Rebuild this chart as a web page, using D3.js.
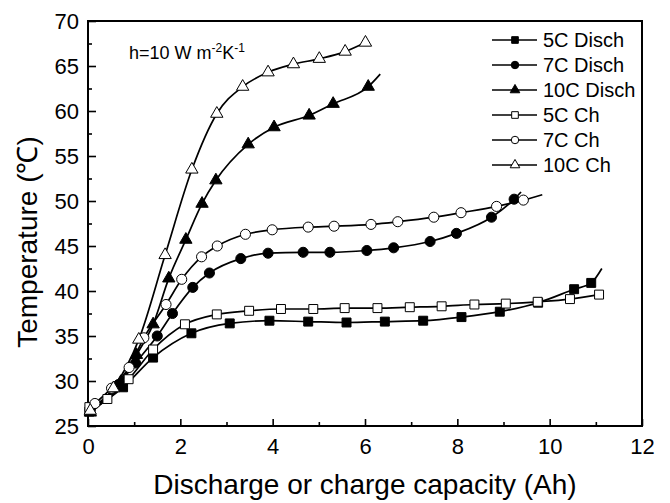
<!DOCTYPE html>
<html>
<head>
<meta charset="utf-8">
<script src="https://cdn.jsdelivr.net/npm/d3@7"></script>
<style>
  html, body { margin: 0; padding: 0; background: #fff; }
  svg { display: block; font-family: "Liberation Sans", Arial, Helvetica, sans-serif; }
</style>
</head>
<body>
<svg id="chart" width="670" height="503"></svg>
<script>
// ---- data ----
const seriesNames = ["5C Disch", "7C Disch", "10C Disch", "5C Ch", "7C Ch", "10C Ch"];

const disch5X = [0.03, 0.76, 1.41, 2.24, 3.07, 3.93, 4.77, 5.6, 6.43, 7.26, 8.09, 8.92, 9.75, 10.53, 10.9];
const disch5Y = [26.6, 29.3, 32.6, 35.3, 36.4, 36.7, 36.6, 36.5, 36.6, 36.7, 37.1, 37.7, 38.7, 40.2, 40.9];

const disch7X = [0.05, 0.66, 1.03, 1.5, 1.83, 2.27, 2.63, 3.31, 3.9, 4.66, 5.24, 6.04, 6.62, 7.41, 7.98, 8.74, 9.23];
const disch7Y = [26.8, 29.6, 32.0, 35.0, 37.5, 40.4, 42.0, 43.6, 44.2, 44.3, 44.3, 44.5, 44.8, 45.5, 46.4, 48.2, 50.2];

const disch10X = [0.05, 0.71, 1.05, 1.41, 1.75, 2.12, 2.47, 2.77, 3.47, 4.03, 4.79, 5.31, 6.07];
const disch10Y = [26.5, 29.9, 32.9, 36.3, 41.4, 45.7, 49.7, 52.3, 56.3, 58.2, 59.5, 60.8, 62.7];

const ch5X = [0.03, 0.42, 0.88, 1.41, 2.1, 2.79, 3.49, 4.18, 4.88, 5.56, 6.27, 6.97, 7.66, 8.37, 9.05, 9.74, 10.44, 11.07];
const ch5Y = [27.1, 28.0, 30.2, 33.5, 36.3, 37.4, 37.8, 38.0, 38.0, 38.1, 38.1, 38.2, 38.3, 38.5, 38.6, 38.8, 39.1, 39.6];

const ch7X = [0.15, 0.51, 0.89, 1.21, 1.69, 2.03, 2.46, 2.8, 3.41, 3.99, 4.77, 5.33, 6.13, 6.71, 7.49, 8.08, 8.85, 9.43];
const ch7Y = [27.5, 29.2, 31.5, 34.8, 38.5, 41.3, 43.8, 45.0, 46.3, 46.8, 47.1, 47.2, 47.4, 47.7, 48.2, 48.7, 49.4, 50.1];

const ch10X = [0.05, 0.55, 1.1, 1.67, 2.25, 2.79, 3.35, 3.9, 4.45, 5.01, 5.57, 6.01];
const ch10Y = [26.7, 29.2, 34.6, 44.0, 53.5, 59.7, 62.7, 64.3, 65.2, 65.8, 66.6, 67.6];

// line continues past last marker (x, y) or null
const lineTails = [[11.13, 42.5], [9.38, 51.0], [6.33, 64.1], null, [9.84, 50.7], null];

const xTicks = [0, 2, 4, 6, 8, 10, 12];
const xMinorTicks = [1, 3, 5, 7, 9, 11];
const yTicks = [25, 30, 35, 40, 45, 50, 55, 60, 65, 70];
const yMinorTicks = [27.5, 32.5, 37.5, 42.5, 47.5, 52.5, 57.5, 62.5, 67.5];

// ---- layout ----
const svg = d3.select("#chart");
const L = 88, R = 642, T = 21, B = 426;

const x = d3.scaleLinear().domain([0, 12]).range([L, R]);
const y = d3.scaleLinear().domain([25, 70]).range([B, T]);

const seriesX = [disch5X, disch7X, disch10X, ch5X, ch7X, ch10X];
const seriesY = [disch5Y, disch7Y, disch10Y, ch5Y, ch7Y, ch10Y];
const symbols = [d3.symbolSquare, d3.symbolCircle, d3.symbolTriangle, d3.symbolSquare, d3.symbolCircle, d3.symbolTriangle];
const filled = [true, true, true, false, false, false];
const symSize = [80, 80, 66, 80, 80, 66];
const legSize = [44, 44, 40, 44, 44, 40];

const series = seriesNames.map((name, i) => {
  const pts = seriesX[i].map((xv, j) => ({ x: xv, y: seriesY[i][j] }));
  const linePts = pts.slice();
  if (lineTails[i]) linePts.push({ x: lineTails[i][0], y: lineTails[i][1] });
  return { name, pts, linePts, i };
});

// ---- axes ----
const xAxis = d3.axisBottom(x).tickValues(xTicks).tickSize(-7).tickPadding(12).tickFormat(d3.format("d"));
const xMinor = d3.axisBottom(x).tickValues(xMinorTicks).tickSize(-4).tickFormat("");
const yAxis = d3.axisLeft(y).tickValues(yTicks).tickSize(-8).tickPadding(9).tickFormat(d3.format("d"));
const yMinor = d3.axisLeft(y).tickValues(yMinorTicks).tickSize(-4).tickFormat("");

function styleAxis(g) {
  g.select(".domain").remove();
  g.selectAll(".tick line").attr("stroke", "#000").attr("stroke-width", 1.6);
  g.selectAll(".tick text").attr("fill", "#000").attr("font-size", 22)
    .attr("font-family", "'Liberation Sans', Arial, sans-serif");
}

svg.append("g").attr("transform", `translate(0,${B})`).call(xAxis).call(styleAxis);
svg.append("g").attr("transform", `translate(0,${B})`).call(xMinor).call(styleAxis);
svg.append("g").attr("transform", `translate(${L},0)`).call(yAxis).call(styleAxis);
svg.append("g").attr("transform", `translate(${L},0)`).call(yMinor).call(styleAxis);

// frame
svg.append("rect").attr("x", L).attr("y", T).attr("width", R - L).attr("height", B - T)
  .attr("fill", "none").attr("stroke", "#000").attr("stroke-width", 2);

// ---- lines ----
const line = d3.line().x(d => x(d.x)).y(d => y(d.y)).curve(d3.curveMonotoneX);
const gLines = svg.append("g");
series.forEach(s => {
  gLines.append("path").attr("d", line(s.linePts))
    .attr("fill", "none").attr("stroke", "#000").attr("stroke-width", 1.7);
});

// ---- markers ----
const gMarks = svg.append("g");
series.forEach(s => {
  const sym = d3.symbol().type(symbols[s.i]).size(symSize[s.i]);
  gMarks.selectAll(null).data(s.pts).enter().append("path")
    .attr("transform", d => `translate(${x(d.x)},${y(d.y)})`)
    .attr("d", sym)
    .attr("fill", filled[s.i] ? "#000" : "#fff")
    .attr("stroke", "#000").attr("stroke-width", 1);
});

// ---- legend ----
const leg = svg.append("g");
const legX0 = 492, legX1 = 537, legMid = 515, legTextX = 543, legY0 = 40, legDY = 25;
seriesNames.forEach((name, i) => {
  const yy = legY0 + i * legDY;
  leg.append("line").attr("x1", legX0).attr("x2", legX1).attr("y1", yy).attr("y2", yy)
    .attr("stroke", "#000").attr("stroke-width", 1.7);
  leg.append("path").attr("transform", `translate(${legMid},${yy})`)
    .attr("d", d3.symbol().type(symbols[i]).size(legSize[i]))
    .attr("fill", filled[i] ? "#000" : "#fff").attr("stroke", "#000").attr("stroke-width", 1);
  leg.append("text").attr("x", legTextX).attr("y", yy).attr("dy", "0.36em")
    .attr("font-size", 20).attr("fill", "#000").text(name);
});

// ---- annotation ----
const ann = svg.append("text").attr("x", 129).attr("y", 59).attr("font-size", 18).attr("fill", "#000");
ann.append("tspan").text("h=10 W m");
ann.append("tspan").attr("font-size", 12).attr("dy", -7).text("-2");
ann.append("tspan").attr("dy", 7).text("K");
ann.append("tspan").attr("font-size", 12).attr("dy", -7).text("-1");

// ---- axis titles ----
svg.append("text").attr("x", (L + R) / 2).attr("y", 494).attr("text-anchor", "middle")
  .attr("font-size", 28).attr("fill", "#000").text("Discharge or charge capacity (Ah)");
svg.append("text").attr("transform", "translate(37,242) rotate(-90)").attr("text-anchor", "middle")
  .attr("font-size", 28).attr("fill", "#000").text("Temperature (℃)");
</script>
</body>
</html>
